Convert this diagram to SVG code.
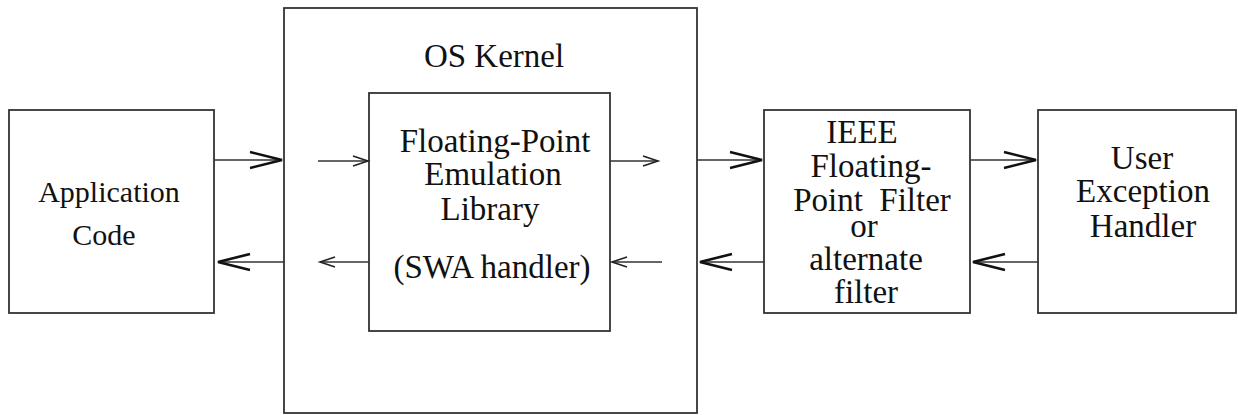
<svg xmlns="http://www.w3.org/2000/svg" width="1238" height="415" viewBox="0 0 1238 415">
  <defs>
    <style>
      .box { fill: #fff; stroke: #333; stroke-width: 1.8; }
      .lbl { font-family: "Liberation Serif", "Times New Roman", serif; fill: #111; text-anchor: middle; }
      .f33 { font-size: 33px; }
      .f30 { font-size: 30px; }
      .con { stroke: #333; stroke-width: 1.6; fill: none; }
      .big { marker-end: url(#chevBig); }
      .small { marker-end: url(#chevSmall); }
    </style>
    <marker id="chevBig" markerUnits="userSpaceOnUse" viewBox="-34 -10 36 20" refX="0" refY="0" markerWidth="36" markerHeight="20" orient="auto" overflow="visible">
      <path d="M-32,-8 L0,0 L-32,8" fill="none" stroke="#111" stroke-width="2.6"/>
    </marker>
    <marker id="chevSmall" markerUnits="userSpaceOnUse" viewBox="-17 -7 19 14" refX="0" refY="0" markerWidth="19" markerHeight="14" orient="auto" overflow="visible">
      <path d="M-15,-5 L0,0 L-15,5" fill="none" stroke="#222" stroke-width="1.6"/>
    </marker>
  </defs>
  <rect width="1238" height="415" fill="#fff"/>

  <g id="kernel">
    <rect class="box" x="284" y="8" width="413" height="405"/>
    <text class="lbl f33" x="494" y="67">OS Kernel</text>
  </g>

  <g id="fp-emulation">
    <rect class="box" x="369" y="93" width="241" height="238"/>
    <text class="lbl f33" x="495" y="152">Floating-Point</text>
    <text class="lbl f33" x="493" y="185">Emulation</text>
    <text class="lbl f33" x="490" y="220">Library</text>
    <text class="lbl f33" x="492" y="278">(SWA handler)</text>
  </g>

  <g id="app-code">
    <rect class="box" x="9" y="110" width="205" height="203"/>
    <text class="lbl f30" x="109" y="202">Application</text>
    <text class="lbl f30" x="104" y="245">Code</text>
  </g>

  <g id="ieee-filter">
    <rect class="box" x="764" y="110" width="206" height="203"/>
    <text class="lbl f33" x="862" y="143">IEEE</text>
    <text class="lbl f33" x="871" y="177">Floating-</text>
    <text class="lbl f33" x="872" y="211" xml:space="preserve">Point  Filter</text>
    <text class="lbl f33" x="864" y="237">or</text>
    <text class="lbl f33" x="866" y="270">alternate</text>
    <text class="lbl f33" x="866" y="303">filter</text>
  </g>

  <g id="user-handler">
    <rect class="box" x="1038" y="110" width="198" height="203"/>
    <text class="lbl f33" x="1142" y="169">User</text>
    <text class="lbl f33" x="1143" y="202">Exception</text>
    <text class="lbl f33" x="1143" y="237">Handler</text>
  </g>

  <g id="connectors">
    <line class="con big" x1="214" y1="160" x2="282" y2="160"/>
    <line class="con big" x1="284" y1="262" x2="218" y2="262"/>
    <line class="con small" x1="318" y1="161" x2="368" y2="161"/>
    <line class="con small" x1="369" y1="262" x2="320" y2="262"/>
    <line class="con small" x1="610" y1="161" x2="658" y2="161"/>
    <line class="con small" x1="662" y1="262" x2="612" y2="262"/>
    <line class="con big" x1="697" y1="160" x2="762" y2="160"/>
    <line class="con big" x1="764" y1="262" x2="700" y2="262"/>
    <line class="con big" x1="970" y1="160" x2="1036" y2="160"/>
    <line class="con big" x1="1038" y1="262" x2="973" y2="262"/>
  </g>
</svg>
